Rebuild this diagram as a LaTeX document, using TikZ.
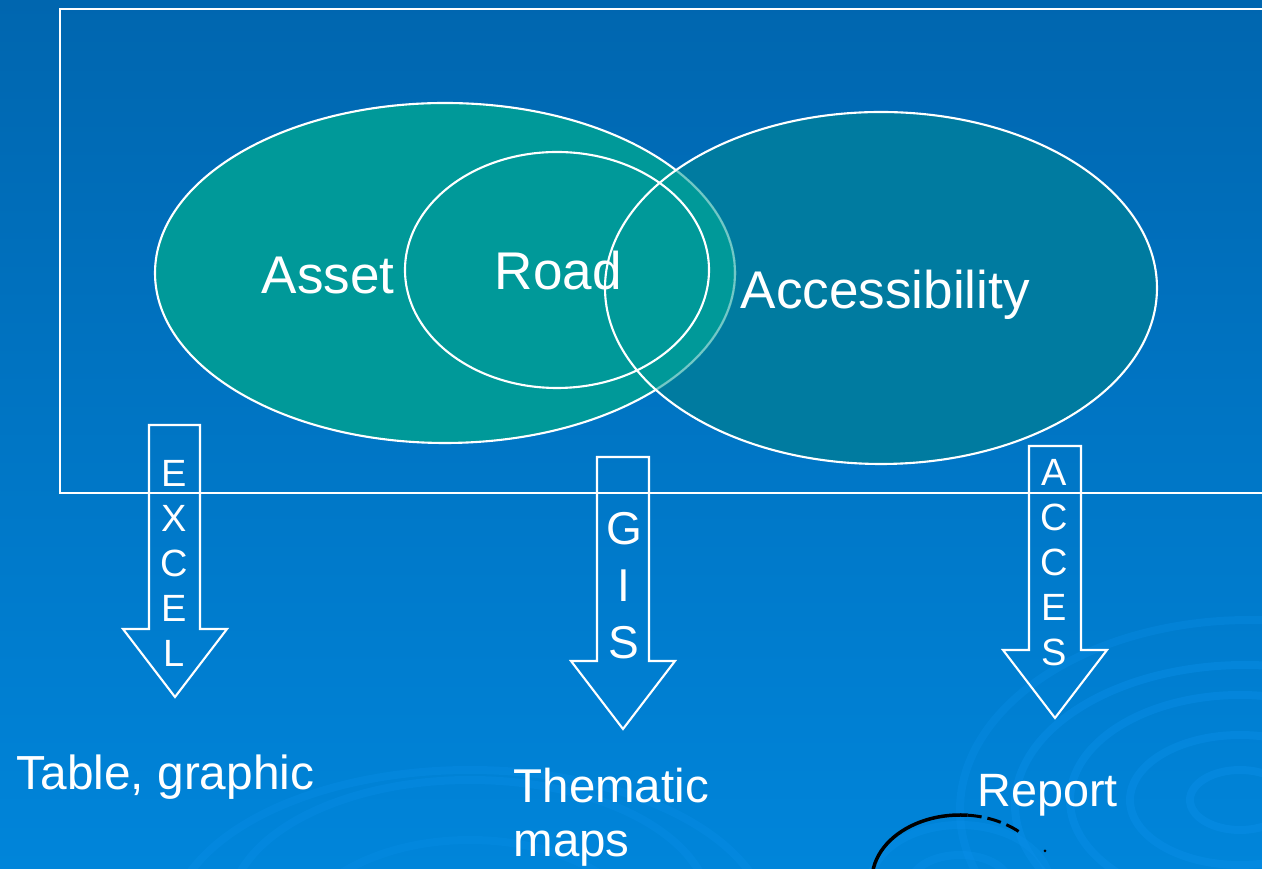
\documentclass[tikz,border=0pt]{standalone}
\usepackage{fontspec}
\setmainfont{Liberation Sans}
\usetikzlibrary{shapes.geometric}
\definecolor{bgtop}{HTML}{0066AF}
\definecolor{bgbot}{HTML}{0085DA}
\definecolor{assetfill}{HTML}{009999}
\definecolor{accfill}{HTML}{007BA0}
\definecolor{swirl}{HTML}{0A90EA}
\begin{document}
\begin{tikzpicture}[x=0.1mm, y=-0.1mm,
  outline/.style={draw=white, line width=0.6pt},
  blob/.style={ellipse, inner sep=0pt, outer sep=0pt},
  lbl/.style={text=white, inner sep=0pt, anchor=base west},
  stack/.style={text=white, inner sep=0pt, align=center},
  blockarrow/.style={draw=white, line width=0.6pt, line join=miter},
  ring/.style={draw=swirl, line width=0.8mm, opacity=0.4}]
  % page and background
  \useasboundingbox (0,0) rectangle (1262,869);
  \shade[top color=bgtop, bottom color=bgbot] (0,0) rectangle (1262,869);

  % faint swirl rings in the lower part of the page
  \begin{scope}
    \clip (0,0) rectangle (1262,869);
    \draw[ring] (1240,800) ellipse [x radius=5mm, y radius=3mm];
    \draw[ring] (1240,800) ellipse [x radius=11mm, y radius=6.5mm];
    \draw[ring] (1240,800) ellipse [x radius=17mm, y radius=10.5mm];
    \draw[ring] (1245,805) ellipse [x radius=23mm, y radius=14mm];
    \draw[ring, opacity=0.3] (1250,810) ellipse [x radius=29mm, y radius=19mm];
    \draw[ring, opacity=0.3] (470,910) ellipse [x radius=24mm, y radius=13mm];
    \draw[ring, opacity=0.3] (470,930) ellipse [x radius=30mm, y radius=16mm];
    \draw[ring, opacity=0.25] (470,950) ellipse [x radius=18mm, y radius=11mm];
    \draw[ring, opacity=0.35] (960,885) ellipse [x radius=5mm, y radius=3mm];
    \draw[ring, opacity=0.35] (960,885) ellipse [x radius=9mm, y radius=6mm];

    % black broken arc near the bottom edge
    \draw[black, line width=0.35mm] (872,880) arc [start angle=180, end angle=85, x radius=8.8mm, y radius=6.5mm];
    \draw[black, line width=0.3mm, dash pattern=on 1.4mm off 0.6mm]
      (967.7,815.2) arc [start angle=85, end angle=45, x radius=8.8mm, y radius=6.5mm];
    \fill[black] (1045,851) circle [radius=0.15mm];
  \end{scope}

  % frame around the diagram (open to the right edge)
  \draw[outline] (1262,9) -- (60,9) -- (60,493) -- (1262,493);

  % ellipses
  \node[blob, fill=accfill, minimum width=55.2mm, minimum height=35.2mm] (acc) at (881,288) {};
  \node[blob, fill=assetfill, minimum width=58mm, minimum height=34mm] (asset) at (445,273) {};
  \draw[outline] (asset.center) ellipse [x radius=29mm, y radius=17mm];
  \begin{scope}
    \clip (acc.center) ellipse [x radius=27.6mm, y radius=17.6mm];
    \draw[draw=assetfill, line width=0.8pt, opacity=0.55] (asset.center) ellipse [x radius=29mm, y radius=17mm];
  \end{scope}
  \draw[outline] (acc.center) ellipse [x radius=27.6mm, y radius=17.6mm];
  \node[blob, minimum width=30.4mm, minimum height=23.6mm] (road) at (557,270) {};
  \draw[outline] (road.center) ellipse [x radius=15.2mm, y radius=11.8mm];

  % ellipse labels
  \node[lbl, font=\fontsize{15.1pt}{18pt}\selectfont] (assetlbl) at (261,293.5) {Asset};
  \node[lbl, font=\fontsize{15.1pt}{18pt}\selectfont] (roadlbl) at (494,290) {Road};
  \node[lbl, font=\fontsize{15.1pt}{18pt}\selectfont] (acclbl) at (740,308.5) {Accessibility};

  % block arrows with their tool names
  \draw[blockarrow] (149,425) -- (200,425) -- (200,629) -- (227,629) -- (175,697) -- (123,629) -- (149,629) -- cycle;
  \draw[blockarrow] (597,457) -- (649,457) -- (649,661) -- (675,661) -- (623,729) -- (571,661) -- (597,661) -- cycle;
  \draw[blockarrow] (1029,446) -- (1081,446) -- (1081,650) -- (1107,650) -- (1055,718) -- (1003,650) -- (1029,650) -- cycle;
  \node[stack, font=\fontsize{10.8pt}{12.8pt}\selectfont] (excel) at (174,563) {E\\X\\C\\E\\L};
  \node[stack, font=\fontsize{13.1pt}{16.2pt}\selectfont] (gis) at (624,586) {G\\I\\S};
  \node[stack, font=\fontsize{10.8pt}{12.8pt}\selectfont] (acces) at (1054,563) {A\\C\\C\\E\\S};

  % outputs
  \node[lbl, font=\fontsize{13.6pt}{15.6pt}\selectfont] (table) at (16,790) {Table, graphic};
  \node[lbl, font=\fontsize{13.5pt}{15.6pt}\selectfont, align=left] (maps) at (513,857) {Thematic\\maps};
  \node[lbl, font=\fontsize{13.3pt}{15.6pt}\selectfont] (report) at (977,807) {Report};
\end{tikzpicture}
\end{document}
